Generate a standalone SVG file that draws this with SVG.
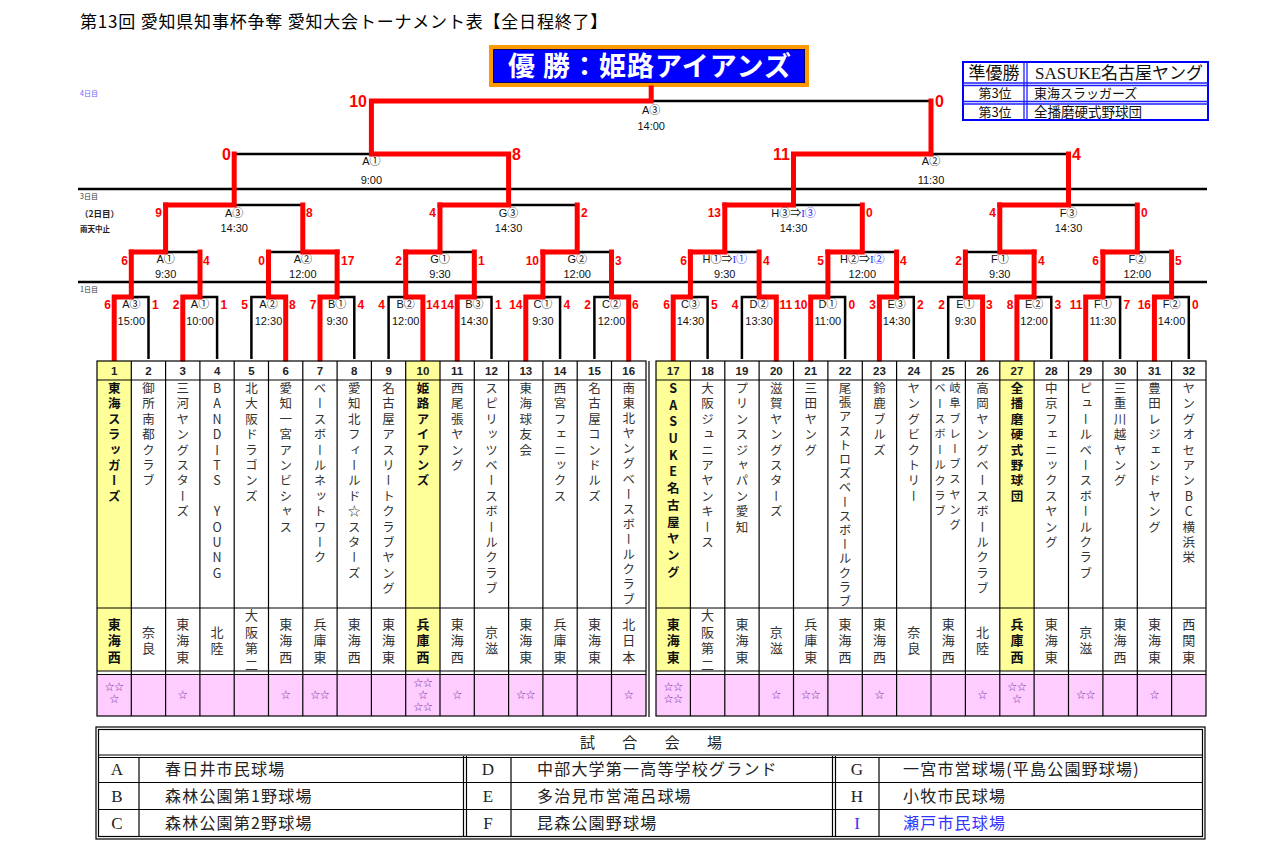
<svg xmlns="http://www.w3.org/2000/svg" width="1280" height="853" viewBox="0 0 1280 853">
<style>
.lb{font-family:"Liberation Sans","Noto Sans CJK JP",sans-serif;font-size:11px;fill:#111;text-anchor:middle}
.bl{fill:#2828ff;font-family:"Liberation Serif","Noto Sans CJK JP",serif}
.sc{font-family:"Liberation Sans",sans-serif;font-weight:bold;fill:#ff0000;font-size:12px}
.l{text-anchor:end}
.big{font-size:16px}
.rd{fill:none;stroke:#ff0000;stroke-width:5;stroke-linecap:square;stroke-linejoin:miter}
.bk{fill:none;stroke:#000;stroke-width:2.5}
.num{font-family:"Liberation Sans",sans-serif;font-size:11.5px;font-weight:bold;text-anchor:middle;fill:#222}
.nm{font-family:"Noto Sans CJK JP",sans-serif;font-size:12.5px;writing-mode:vertical-rl;text-orientation:upright;letter-spacing:2.9px;fill:#333}
.rg{font-family:"Noto Sans CJK JP",sans-serif;font-size:13px;writing-mode:vertical-rl;text-orientation:upright;letter-spacing:3.5px;text-anchor:middle;fill:#333}
.b{font-weight:bold;fill:#111}
.st{font-family:"Noto Sans CJK JP",sans-serif;font-size:9.5px;fill:#7030a0;text-anchor:middle}
.grid{fill:none;stroke:#000;stroke-width:1.2}
.jp{font-family:"Noto Sans CJK JP",sans-serif}
.dl{font-family:"Noto Sans CJK JP",sans-serif;font-size:7px;fill:#333}
.vn{font-family:"Noto Sans CJK JP",sans-serif;font-size:16px;letter-spacing:1.2px;fill:#222}
.vl{font-family:"Liberation Serif",serif;font-size:17px;text-anchor:middle;fill:#222}
</style>
<rect width="1280" height="853" fill="#fff"/>

<g id="title"><text class="jp" x="80" y="28" font-size="17" letter-spacing="0.8" fill="#000">第13回 愛知県知事杯争奪 愛知大会トーナメント表【全日程終了】</text></g>

<g id="champion">
<rect x="491" y="47" width="316" height="38" fill="#0000ff" stroke="#ff9900" stroke-width="4"/>
<rect x="493.5" y="49.5" width="311" height="33" fill="none" stroke="#000066" stroke-width="1"/>
<text class="jp" x="650" y="76" font-size="27" font-weight="bold" letter-spacing="1" fill="#fff" text-anchor="middle">優 勝：姫路アイアンズ</text>
</g>

<g id="placings">
<rect x="963" y="62" width="245" height="58" fill="#fff" stroke="#0000ff" stroke-width="2"/>
<path d="M963 83H1208M963 85.5H1208M963 101.5H1208M963 104H1208M1024 62V120M1027 62V120" fill="none" stroke="#2020ff" stroke-width="1.3"/>
<text class="jp" x="994" y="79" font-size="17" text-anchor="middle" fill="#111">準優勝</text>
<text x="1035" y="79" font-size="17" font-family="Liberation Serif,Noto Sans CJK JP,serif" fill="#111">SASUKE名古屋ヤング</text>
<text class="jp" x="995" y="98" font-size="13" text-anchor="middle" fill="#111">第3位</text>
<text class="jp" x="1034" y="98" font-size="13" fill="#111">東海スラッガーズ</text>
<text class="jp" x="995" y="116.5" font-size="13" text-anchor="middle" fill="#111">第3位</text>
<text class="jp" x="1034" y="116.5" font-size="13.5" fill="#111">全播磨硬式野球団</text>
</g>

<g id="day-labels">
<text class="dl" x="80" y="96" style="fill:#6666ff">4日目</text>
<text class="dl" x="80" y="199">3日目</text>
<text class="jp" x="80" y="217" font-size="8.5" font-weight="bold" fill="#222">（2日目）</text>
<text class="jp" x="80" y="232" font-size="7.5" font-weight="bold" fill="#222">雨天中止</text>
<text class="dl" x="80" y="292">1日目</text>
<path d="M78 189H1207M78 282H1207" stroke="#000" stroke-width="2.5" fill="none"/>
</g>

<g id="connectors">
<path class="bk" d="M148.5 359V297H114.2M217.1 359V297H182.8M251.4 359V297H285.7M354.3 359V297H320M388.6 359V297H422.9M491.5 359V297H457.2M560.1 359V297H525.8M594.4 359V297H628.7M707.6 359V297H673.2M741.9 359V297H776.3M845.1 359V297H810.7M913.8 359V297H879.4M948.2 359V297H982.6M1051.3 359V297H1016.9M1120.1 359V297H1085.7M1188.8 359V297H1154.4"/>
<path class="bk" d="M131.3 252H200M268.5 252H337.1M405.7 252H474.3M542.9 252H611.5M690.4 252H759.1M827.9 252H896.6M965.4 252H1034.1M1102.9 252H1171.6M165.6 205H302.8M440 205H577.2M724.8 205H862.3M999.8 205H1137.3M234.2 154H508.6M793.5 154H1068.5M371.4 101H931"/>
<path class="rd" d="M114.2 359V297H131.3V252M182.8 359V297H200V252M285.7 359V297H268.5V252M320 359V297H337.1V252M422.9 359V297H405.7V252M457.2 359V297H474.3V252M525.8 359V297H542.9V252M628.7 359V297H611.5V252"/>
<path class="rd" d="M673.2 359V297H690.4V252M776.3 359V297H759.1V252M810.7 359V297H827.9V252M879.4 359V297H896.6V252M982.6 359V297H965.4V252M1016.9 359V297H1034.1V252M1085.7 359V297H1102.9V252M1154.4 359V297H1171.6V252"/>
<path class="rd" d="M131.3 252H165.6V205M337.1 252H302.8V205M405.7 252H440V205M542.9 252H577.2V205M690.4 252H724.8V205M827.9 252H862.3V205M1034.1 252H999.8V205M1102.9 252H1137.3V205"/>
<path class="rd" d="M165.6 205H234.2V154M440 205H508.6V154M724.8 205H793.5V154M999.8 205H1068.5V154M508.6 154H371.4V101M793.5 154H931V101M371.4 101H651.2V88"/>
</g>

<g id="final"><text class="lb" x="651.2" y="114">A③</text><text class="lb" x="651.2" y="130">14:00</text><text class="sc big l" x="367" y="107">10</text><text class="sc big" x="935" y="107">0</text></g>
<g id="r4-1"><text class="lb" x="371.4" y="165">A①</text><text class="lb" x="371.4" y="184">9:00</text><text class="sc big l" x="231" y="160">0</text><text class="sc big" x="512" y="160">8</text></g>
<g id="r4-2"><text class="lb" x="931" y="165">A②</text><text class="lb" x="931" y="184">11:30</text><text class="sc big l" x="790" y="160">11</text><text class="sc big" x="1072" y="160">4</text></g>

<g id="r3-1"><text class="lb" x="234.2" y="217">A③</text><text class="lb" x="234.2" y="232">14:30</text><text class="sc l" x="162" y="217">9</text><text class="sc" x="306" y="217">8</text></g>
<g id="r3-2"><text class="lb" x="508.6" y="217">G③</text><text class="lb" x="508.6" y="232">14:30</text><text class="sc l" x="436" y="217">4</text><text class="sc" x="581" y="217">2</text></g>
<g id="r3-3"><text class="lb" x="793.5" y="217">H③⇒<tspan class="bl">I③</tspan></text><text class="lb" x="793.5" y="232">14:30</text><text class="sc l" x="721" y="217">13</text><text class="sc" x="866" y="217">0</text></g>
<g id="r3-4"><text class="lb" x="1068.5" y="217">F③</text><text class="lb" x="1068.5" y="232">14:30</text><text class="sc l" x="996" y="217">4</text><text class="sc" x="1141" y="217">0</text></g>

<g id="r2-1"><text class="lb" x="165.6" y="263">A①</text><text class="lb" x="165.6" y="278">9:30</text><text class="sc l" x="128" y="265">6</text><text class="sc" x="203" y="265">4</text></g>
<g id="r2-2"><text class="lb" x="302.8" y="263">A②</text><text class="lb" x="302.8" y="278">12:00</text><text class="sc l" x="265" y="265">0</text><text class="sc" x="341" y="265">17</text></g>
<g id="r2-3"><text class="lb" x="440" y="263">G①</text><text class="lb" x="440" y="278">9:30</text><text class="sc l" x="402" y="265">2</text><text class="sc" x="478" y="265">1</text></g>
<g id="r2-4"><text class="lb" x="577.2" y="263">G②</text><text class="lb" x="577.2" y="278">12:00</text><text class="sc l" x="539" y="265">10</text><text class="sc" x="615" y="265">3</text></g>
<g id="r2-5"><text class="lb" x="724.8" y="263">H①⇒<tspan class="bl">I①</tspan></text><text class="lb" x="724.8" y="278">9:30</text><text class="sc l" x="687" y="265">6</text><text class="sc" x="763" y="265">4</text></g>
<g id="r2-6"><text class="lb" x="862.3" y="263">H②⇒<tspan class="bl">I②</tspan></text><text class="lb" x="862.3" y="278">12:00</text><text class="sc l" x="824" y="265">5</text><text class="sc" x="900" y="265">4</text></g>
<g id="r2-7"><text class="lb" x="999.8" y="263">F①</text><text class="lb" x="999.8" y="278">9:30</text><text class="sc l" x="962" y="265">2</text><text class="sc" x="1038" y="265">4</text></g>
<g id="r2-8"><text class="lb" x="1137.3" y="263">F②</text><text class="lb" x="1137.3" y="278">12:00</text><text class="sc l" x="1099" y="265">6</text><text class="sc" x="1175" y="265">5</text></g>

<g id="r1-1"><text class="lb" x="131.3" y="308">A③</text><text class="lb" x="131.3" y="325">15:00</text><text class="sc l" x="111" y="309">6</text><text class="sc" x="152" y="309">1</text></g>
<g id="r1-2"><text class="lb" x="200" y="308">A①</text><text class="lb" x="200" y="325">10:00</text><text class="sc l" x="179.5" y="309">2</text><text class="sc" x="220.5" y="309">1</text></g>
<g id="r1-3"><text class="lb" x="268.5" y="308">A②</text><text class="lb" x="268.5" y="325">12:30</text><text class="sc l" x="248" y="309">5</text><text class="sc" x="289" y="309">8</text></g>
<g id="r1-4"><text class="lb" x="337.1" y="308">B①</text><text class="lb" x="337.1" y="325">9:30</text><text class="sc l" x="316.5" y="309">7</text><text class="sc" x="357.5" y="309">4</text></g>
<g id="r1-5"><text class="lb" x="405.7" y="308">B②</text><text class="lb" x="405.7" y="325">12:00</text><text class="sc l" x="385" y="309">4</text><text class="sc" x="426" y="309">14</text></g>
<g id="r1-6"><text class="lb" x="474.3" y="308">B③</text><text class="lb" x="474.3" y="325">14:30</text><text class="sc l" x="454" y="309">14</text><text class="sc" x="495" y="309">1</text></g>
<g id="r1-7"><text class="lb" x="542.9" y="308">C①</text><text class="lb" x="542.9" y="325">9:30</text><text class="sc l" x="522.5" y="309">14</text><text class="sc" x="563.5" y="309">4</text></g>
<g id="r1-8"><text class="lb" x="611.5" y="308">C②</text><text class="lb" x="611.5" y="325">12:00</text><text class="sc l" x="591" y="309">2</text><text class="sc" x="632" y="309">6</text></g>
<g id="r1-9"><text class="lb" x="690.4" y="308">C③</text><text class="lb" x="690.4" y="325">14:30</text><text class="sc l" x="670" y="309">6</text><text class="sc" x="711" y="309">5</text></g>
<g id="r1-10"><text class="lb" x="759.1" y="308">D②</text><text class="lb" x="759.1" y="325">13:30</text><text class="sc l" x="738.5" y="309">4</text><text class="sc" x="779.5" y="309">11</text></g>
<g id="r1-11"><text class="lb" x="827.9" y="308">D①</text><text class="lb" x="827.9" y="325">11:00</text><text class="sc l" x="807.5" y="309">10</text><text class="sc" x="848.5" y="309">0</text></g>
<g id="r1-12"><text class="lb" x="896.6" y="308">E③</text><text class="lb" x="896.6" y="325">14:30</text><text class="sc l" x="876" y="309">3</text><text class="sc" x="917" y="309">2</text></g>
<g id="r1-13"><text class="lb" x="965.4" y="308">E①</text><text class="lb" x="965.4" y="325">9:30</text><text class="sc l" x="945" y="309">2</text><text class="sc" x="986" y="309">3</text></g>
<g id="r1-14"><text class="lb" x="1034.1" y="308">E②</text><text class="lb" x="1034.1" y="325">12:00</text><text class="sc l" x="1013.5" y="309">8</text><text class="sc" x="1054.5" y="309">3</text></g>
<g id="r1-15"><text class="lb" x="1102.9" y="308">F①</text><text class="lb" x="1102.9" y="325">11:30</text><text class="sc l" x="1082.5" y="309">11</text><text class="sc" x="1123.5" y="309">7</text></g>
<g id="r1-16"><text class="lb" x="1171.6" y="308">F②</text><text class="lb" x="1171.6" y="325">14:00</text><text class="sc l" x="1151" y="309">16</text><text class="sc" x="1192" y="309">0</text></g>

<g id="team-table-left">
<rect x="97" y="674.5" width="549" height="41.5" fill="#ffccff"/>
<rect x="97" y="361" width="34.3" height="310" fill="#ffff99"/>
<rect x="405.7" y="361" width="34.3" height="310" fill="#ffff99"/>
<rect x="97" y="361" width="549" height="355" class="grid" stroke-width="2"/>
<path class="grid" d="M97 380H646M97 608H646M97 671H646M97 674.5H646M649 361V717M131.3 361V716M165.6 361V716M199.9 361V716M234.2 361V716M268.5 361V716M302.8 361V716M337.1 361V716M371.4 361V716M405.7 361V716M440 361V716M474.3 361V716M508.6 361V716M542.9 361V716M577.2 361V716M611.5 361V716"/>
</g>
<g id="team-table-right">
<rect x="656" y="674.5" width="550" height="41.5" fill="#ffccff"/>
<rect x="656" y="361" width="34.4" height="310" fill="#ffff99"/>
<rect x="999.8" y="361" width="34.3" height="310" fill="#ffff99"/>
<rect x="656" y="361" width="550" height="355" class="grid" stroke-width="2"/>
<path class="grid" d="M656 380H1206M656 608H1206M656 671H1206M656 674.5H1206M690.4 361V716M724.8 361V716M759.1 361V716M793.5 361V716M827.9 361V716M862.3 361V716M896.6 361V716M931 361V716M965.4 361V716M999.8 361V716M1034.1 361V716M1068.5 361V716M1102.9 361V716M1137.3 361V716M1171.6 361V716"/>
</g>

<g id="team-1"><text class="num" x="114.2" y="375">1</text><text class="nm b" x="114.2" y="382">東海スラッガーズ</text><text class="rg b" x="114.2" y="642">東海西</text><text class="st" x="114.2" y="690">☆☆</text><text class="st" x="114.2" y="702">☆</text></g>
<g id="team-2"><text class="num" x="148.5" y="375">2</text><text class="nm" x="148.5" y="382">御所南都クラブ</text><text class="rg" x="148.5" y="642">奈良</text></g>
<g id="team-3"><text class="num" x="182.8" y="375">3</text><text class="nm" x="182.8" y="382">三河ヤングスターズ</text><text class="rg" x="182.8" y="642">東海東</text><text class="st" x="182.8" y="698">☆</text></g>
<g id="team-4"><text class="num" x="217.1" y="375">4</text><text class="nm" x="217.1" y="382">BANDITS YOUNG</text><text class="rg" x="217.1" y="642">北陸</text></g>
<g id="team-5"><text class="num" x="251.4" y="375">5</text><text class="nm" x="251.4" y="382">北大阪ドラゴンズ</text><text class="rg" x="251.4" y="642">大阪第二</text></g>
<g id="team-6"><text class="num" x="285.7" y="375">6</text><text class="nm" x="285.7" y="382">愛知一宮アンビシャス</text><text class="rg" x="285.7" y="642">東海西</text><text class="st" x="285.7" y="698">☆</text></g>
<g id="team-7"><text class="num" x="320" y="375">7</text><text class="nm" x="320" y="382">ベースボールネットワーク</text><text class="rg" x="320" y="642">兵庫東</text><text class="st" x="320" y="698">☆☆</text></g>
<g id="team-8"><text class="num" x="354.3" y="375">8</text><text class="nm" x="354.3" y="382">愛知北フィールド☆スターズ</text><text class="rg" x="354.3" y="642">東海西</text></g>
<g id="team-9"><text class="num" x="388.6" y="375">9</text><text class="nm" x="388.6" y="382">名古屋アスリートクラブヤング</text><text class="rg" x="388.6" y="642">東海東</text></g>
<g id="team-10"><text class="num" x="422.9" y="375">10</text><text class="nm b" x="422.9" y="382">姫路アイアンズ</text><text class="rg b" x="422.9" y="642">兵庫西</text><text class="st" x="422.9" y="686">☆☆</text><text class="st" x="422.9" y="698">☆</text><text class="st" x="422.9" y="710">☆☆</text></g>
<g id="team-11"><text class="num" x="457.2" y="375">11</text><text class="nm" x="457.2" y="382">西尾張ヤング</text><text class="rg" x="457.2" y="642">東海西</text><text class="st" x="457.2" y="698">☆</text></g>
<g id="team-12"><text class="num" x="491.5" y="375">12</text><text class="nm" x="491.5" y="382">スピリッツベースボールクラブ</text><text class="rg" x="491.5" y="642">京滋</text></g>
<g id="team-13"><text class="num" x="525.8" y="375">13</text><text class="nm" x="525.8" y="382">東海球友会</text><text class="rg" x="525.8" y="642">東海東</text><text class="st" x="525.8" y="698">☆☆</text></g>
<g id="team-14"><text class="num" x="560.1" y="375">14</text><text class="nm" x="560.1" y="382">西宮フェニックス</text><text class="rg" x="560.1" y="642">兵庫東</text></g>
<g id="team-15"><text class="num" x="594.4" y="375">15</text><text class="nm" x="594.4" y="382">名古屋コンドルズ</text><text class="rg" x="594.4" y="642">東海東</text></g>
<g id="team-16"><text class="num" x="628.7" y="375">16</text><text class="nm" x="628.7" y="382" style="letter-spacing:2.6px">南東北ヤングベースボールクラブ</text><text class="rg" x="628.7" y="642">北日本</text><text class="st" x="628.7" y="698">☆</text></g>

<g id="team-17"><text class="num" x="673.2" y="375">17</text><text class="nm b" x="673.2" y="382" style="letter-spacing:4.2px">SASUKE名古屋ヤング</text><text class="rg b" x="673.2" y="642">東海東</text><text class="st" x="673.2" y="690">☆☆</text><text class="st" x="673.2" y="702">☆☆</text></g>
<g id="team-18"><text class="num" x="707.6" y="375">18</text><text class="nm" x="707.6" y="382">大阪ジュニアヤンキース</text><text class="rg" x="707.6" y="642">大阪第二</text></g>
<g id="team-19"><text class="num" x="741.9" y="375">19</text><text class="nm" x="741.9" y="382">プリンスジャパン愛知</text><text class="rg" x="741.9" y="642">東海東</text></g>
<g id="team-20"><text class="num" x="776.3" y="375">20</text><text class="nm" x="776.3" y="382">滋賀ヤングスターズ</text><text class="rg" x="776.3" y="642">京滋</text><text class="st" x="776.3" y="698">☆</text></g>
<g id="team-21"><text class="num" x="810.7" y="375">21</text><text class="nm" x="810.7" y="382">三田ヤング</text><text class="rg" x="810.7" y="642">兵庫東</text><text class="st" x="810.7" y="698">☆☆</text></g>
<g id="team-22"><text class="num" x="845.1" y="375">22</text><text class="nm" x="845.1" y="382" style="letter-spacing:1.7px">尾張アストロズベースボールクラブ</text><text class="rg" x="845.1" y="642">東海西</text></g>
<g id="team-23"><text class="num" x="879.4" y="375">23</text><text class="nm" x="879.4" y="382">鈴鹿ブルズ</text><text class="rg" x="879.4" y="642">東海西</text><text class="st" x="879.4" y="698">☆</text></g>
<g id="team-24"><text class="num" x="913.8" y="375">24</text><text class="nm" x="913.8" y="382">ヤングビクトリー</text><text class="rg" x="913.8" y="642">奈良</text></g>
<g id="team-25"><text class="num" x="948.2" y="375">25</text><text class="nm" x="955" y="382" style="font-size:11.5px;letter-spacing:3.7px">岐阜ブレーブスヤング</text><text class="nm" x="940" y="382" style="font-size:11.5px;letter-spacing:3.9px">ベースボールクラブ</text><text class="rg" x="948.2" y="642">東海西</text></g>
<g id="team-26"><text class="num" x="982.6" y="375">26</text><text class="nm" x="982.6" y="382">高岡ヤングベースボールクラブ</text><text class="rg" x="982.6" y="642">北陸</text><text class="st" x="982.6" y="698">☆</text></g>
<g id="team-27"><text class="num" x="1016.9" y="375">27</text><text class="nm b" x="1016.9" y="382">全播磨硬式野球団</text><text class="rg b" x="1016.9" y="642">兵庫西</text><text class="st" x="1016.9" y="690">☆☆</text><text class="st" x="1016.9" y="702">☆</text></g>
<g id="team-28"><text class="num" x="1051.3" y="375">28</text><text class="nm" x="1051.3" y="382">中京フェニックスヤング</text><text class="rg" x="1051.3" y="642">東海東</text></g>
<g id="team-29"><text class="num" x="1085.7" y="375">29</text><text class="nm" x="1085.7" y="382">ピュールベースボールクラブ</text><text class="rg" x="1085.7" y="642">京滋</text><text class="st" x="1085.7" y="698">☆☆</text></g>
<g id="team-30"><text class="num" x="1120.1" y="375">30</text><text class="nm" x="1120.1" y="382">三重川越ヤング</text><text class="rg" x="1120.1" y="642">東海西</text></g>
<g id="team-31"><text class="num" x="1154.4" y="375">31</text><text class="nm" x="1154.4" y="382">豊田レジェンドヤング</text><text class="rg" x="1154.4" y="642">東海東</text><text class="st" x="1154.4" y="698">☆</text></g>
<g id="team-32"><text class="num" x="1188.8" y="375">32</text><text class="nm" x="1188.8" y="382">ヤングオセアンBC横浜栄</text><text class="rg" x="1188.8" y="642">西関東</text></g>

<g id="venues">
<rect x="96" y="727" width="1109" height="112" fill="none" stroke="#000" stroke-width="1.2"/>
<rect x="98.5" y="729.5" width="1104" height="107" fill="none" stroke="#000" stroke-width="1.2"/>
<path d="M98.5 755H1202.5M98.5 757.5H1202.5" stroke="#000" stroke-width="1" fill="none"/>
<path d="M98.5 782.5H1202.5M98.5 809.5H1202.5M139 757V836.5M463.5 756V836.5M466.5 756V836.5M511 757V836.5M832.5 756V836.5M835.5 756V836.5M879 757V836.5" stroke="#000" stroke-width="1.2" fill="none"/>
<text class="jp" x="580" y="748" font-size="15" letter-spacing="12" fill="#222">試 合 会 場</text>
<text class="vl" x="117" y="775">A</text><text class="vn" x="165" y="775">春日井市民球場</text>
<text class="vl" x="117" y="802">B</text><text class="vn" x="165" y="802">森林公園第1野球場</text>
<text class="vl" x="117" y="829">C</text><text class="vn" x="165" y="829">森林公園第2野球場</text>
<text class="vl" x="488" y="775">D</text><text class="vn" x="537" y="775">中部大学第一高等学校グランド</text>
<text class="vl" x="488" y="802">E</text><text class="vn" x="537" y="802">多治見市営滝呂球場</text>
<text class="vl" x="488" y="829">F</text><text class="vn" x="537" y="829">昆森公園野球場</text>
<text class="vl" x="857" y="775">G</text><text class="vn" x="903" y="775">一宮市営球場(平島公園野球場)</text>
<text class="vl" x="857" y="802">H</text><text class="vn" x="903" y="802">小牧市民球場</text>
<text class="vl" x="857" y="829" style="fill:#3333ff">I</text><text class="vn" x="903" y="829" style="fill:#3333ff">瀬戸市民球場</text>
</g>
</svg>
